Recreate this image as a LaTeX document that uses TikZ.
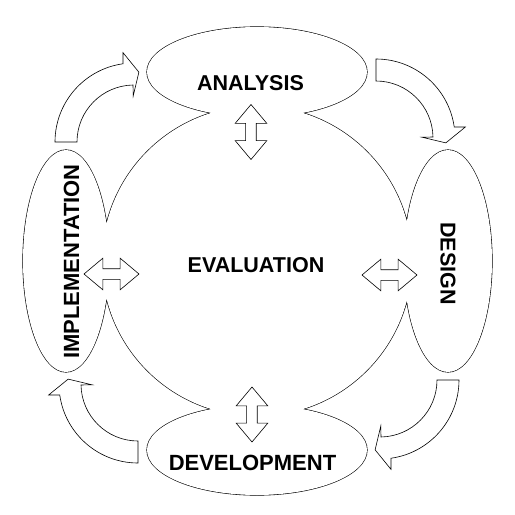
\documentclass[tikz,border=0pt]{standalone}
\usepackage{fontspec}
\setmainfont{Liberation Sans}
\usetikzlibrary{shapes.arrows}
\begin{document}
\begin{tikzpicture}[x=1pt,y=1pt,
  lbl/.style={font=\bfseries\fontsize{21.5}{24}\selectfont},
  dbl/.style={double arrow, draw=black, fill=white, line width=0.6pt, inner sep=5pt,
    double arrow head extend=10.5pt, double arrow tip angle=80, minimum height=55pt},
  turn/.style={draw=black, fill=white, line width=0.6pt}]
\useasboundingbox (-257,-254) rectangle (258,261);
% circle and the four ellipses, drawn thick and then filled so only the outer edge stays
\draw[line width=1.2pt] (0,0) circle (155) (0,189) ellipse (110 and 45) (0,-189) ellipse (110 and 45)
  (-191,0) ellipse (43 and 111) (191,0) ellipse (44 and 111);
\fill[white] (0,0) circle (155) (0,189) ellipse (110 and 45) (0,-189) ellipse (110 and 45)
  (-191,0) ellipse (43 and 111) (191,0) ellipse (44 and 111);
% curved arrows round the cycle
\foreach \r in {0,-90,-180,-270}
  \draw[turn, rotate=\r, shift={(-123,119)}] (180:79) arc[start angle=180, end angle=98, radius=79]
    -- (97:90) -- (86:70) -- (91:46) -- (91:57) arc[start angle=91, end angle=180, radius=57] -- cycle;
% double arrows to the centre
\node[dbl, rotate=90] (up) at (-6,129) {};
\node[dbl, rotate=90] (down) at (-5,-153.5) {};
\node[dbl] (left) at (-145.5,-13) {};
\node[dbl] (right) at (132.5,-14) {};
% labels
\node[lbl] (eva) at (-1,-4) {EVALUATION};
\node[lbl] (ana) at (-6.5,177.5) {ANALYSIS};
\node[lbl, font=\bfseries\fontsize{22}{24}\selectfont] (dev) at (-4.5,-201.5) {DEVELOPMENT};
\node[lbl, rotate=90, font=\bfseries\fontsize{22}{24}\selectfont] (imp) at (-185.5,-0.5) {IMPLEMENTATION};
\node[lbl, rotate=-90] (des) at (191,-2.5) {DESIGN};
\end{tikzpicture}
\end{document}
